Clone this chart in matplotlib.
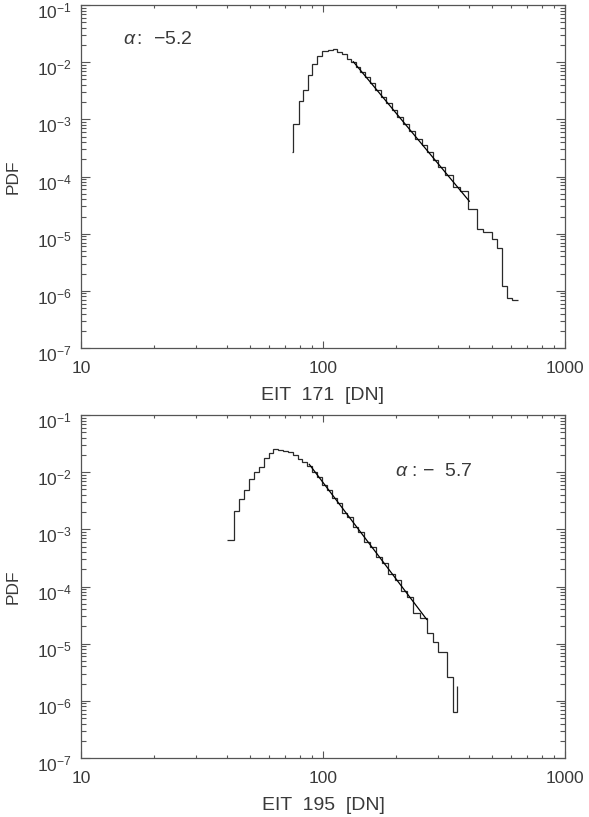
import numpy as np
import matplotlib
matplotlib.use("Agg")
import matplotlib.pyplot as plt
import matplotlib.transforms as mtransforms
from matplotlib.ticker import LogLocator, FixedLocator, FixedFormatter, NullFormatter

plt.rcParams['font.family'] = ['Liberation Sans', 'DejaVu Sans']
plt.rcParams['mathtext.fontset'] = 'custom'
plt.rcParams['mathtext.rm'] = 'Liberation Sans'
plt.rcParams['mathtext.it'] = 'Liberation Sans:italic'

# EIT 171 histogram (bin edges in DN, PDF per bin)
edges_171 = [74.2, 74.9, 79.9, 82.9, 86.4, 90.3, 94.8, 99.4, 104.5, 109.6, 114.6,
             119.8, 125.2, 130.5, 136.5, 142.7, 149.1, 156.4, 164.0, 173.1, 182.1,
             192.2, 202.9, 214.8, 227.4, 240.0, 255.7, 268.2, 284.0, 299.7, 319.3,
             343.4, 368.2, 398.7, 434.4, 459.9, 497.7, 521.9, 547.4, 574.1, 602.0,
             641.5]
pdf_171 = [2.70e-4, 8.47e-4, 2.08e-3, 3.25e-3, 6.02e-3, 9.14e-3, 1.28e-2, 1.585e-2,
           1.63e-2, 1.67e-2, 1.52e-2, 1.42e-2, 1.16e-2, 1.02e-2, 8.3e-3, 6.8e-3,
           5.41e-3, 4.25e-3, 3.33e-3, 2.48e-3, 1.95e-3, 1.45e-3, 1.11e-3, 8.24e-4,
           6.30e-4, 4.62e-4, 3.53e-4, 2.70e-4, 1.98e-4, 1.47e-4, 1.05e-4, 6.58e-5,
           5.60e-5, 2.68e-5, 1.21e-5, 1.07e-5, 8.2e-6, 5.7e-6, 1.2e-6, 7.5e-7,
           6.8e-7]
fit_x_171 = [133.5, 402.5]
fit_y_171 = [1.02e-2, 3.7e-5]
label_171 = r"$\alpha\,$:  " + "\u22125.2"

# EIT 195 histogram
edges_195 = [40.2, 43.0, 45.1, 47.3, 49.5, 51.9, 54.4, 56.9, 59.6, 62.3, 65.4,
             68.6, 71.7, 74.9, 78.6, 82.2, 86.1, 90.1, 94.1, 98.7, 103.6, 108.6,
             113.9, 119.8, 126.0, 132.6, 140.0, 147.7, 156.4, 165.6, 175.3, 186.2,
             197.8, 210.0, 223.2, 236.3, 251.6, 268.2, 284.0, 299.7, 324.4, 343.4,
             356.7, 359.0]
pdf_195 = [6.42e-4, 2.06e-3, 3.39e-3, 4.88e-3, 7.60e-3, 9.93e-3, 1.25e-2, 1.75e-2,
           2.14e-2, 2.54e-2, 2.44e-2, 2.35e-2, 2.28e-2, 2.0e-2, 1.68e-2, 1.51e-2,
           1.30e-2, 1.02e-2, 8.34e-3, 5.96e-3, 4.88e-3, 3.48e-3, 2.85e-3, 1.96e-3,
           1.62e-3, 1.11e-3, 9.1e-4, 6.09e-4, 4.84e-4, 3.24e-4, 2.54e-4, 1.65e-4,
           1.30e-4, 8.46e-5, 6.64e-5, 3.49e-5, 2.77e-5, 1.52e-5, 1.05e-5, 7.05e-6,
           2.65e-6, 6.29e-7, 1.82e-6]
fit_x_195 = [87.8, 268.2]
fit_y_195 = [1.37e-2, 2.66e-5]
label_195 = r"$\alpha$ : " + "\u2212  5.7"

xticks = [10, 100, 1000]
xticklabels = ["10", "100", "1000"]
yticks = [1e-7, 1e-6, 1e-5, 1e-4, 1e-3, 1e-2, 1e-1]

TXT = '#3a3a3a'

fig = plt.figure(figsize=(5.89, 8.17), dpi=100)
ax1 = fig.add_axes([0.1375, 0.574, 0.8217, 0.4198])
ax2 = fig.add_axes([0.1375, 0.0722, 0.8217, 0.4198])

panels = [
    (ax1, edges_171, pdf_171, fit_x_171, fit_y_171, "EIT  171  [DN]", label_171, (0.087, 0.90)),
    (ax2, edges_195, pdf_195, fit_x_195, fit_y_195, "EIT  195  [DN]", label_195, (0.649, 0.834)),
]

shift_down = mtransforms.ScaledTranslation(0, -5 / 100, fig.dpi_scale_trans)

for ax, edges, pdf, fx, fy, xlabel, alpha, pos in panels:
    ax.stairs(pdf, edges, baseline=None, color='#2a2a2a', lw=0.9)
    ax.plot(fx, fy, color='black', lw=0.9)
    ax.set_xscale('log')
    ax.set_yscale('log')
    ax.set_xlim(10, 1000)
    ax.set_ylim(1e-7, 1e-1)

    ax.xaxis.set_major_locator(FixedLocator(xticks))
    ax.xaxis.set_major_formatter(FixedFormatter(xticklabels))
    ax.xaxis.set_minor_locator(LogLocator(base=10, subs=np.arange(2, 10), numticks=20))
    ax.xaxis.set_minor_formatter(NullFormatter())
    ax.yaxis.set_major_locator(FixedLocator(yticks))
    ax.yaxis.set_minor_locator(LogLocator(base=10, subs=np.arange(2, 10), numticks=20))
    ax.yaxis.set_minor_formatter(NullFormatter())

    ax.tick_params(which='both', direction='in', top=True, right=True,
                   color='#555555', width=0.8, labelsize=12.5, labelcolor=TXT)
    ax.tick_params(axis='x', which='major', length=5, pad=9)
    ax.tick_params(axis='x', which='minor', length=2.5)
    ax.tick_params(axis='y', which='major', length=6.5, pad=6.5)
    ax.tick_params(axis='y', which='minor', length=3.5)
    for s in ax.spines.values():
        s.set_color('#555555')
        s.set_linewidth(0.9)

    fig.canvas.draw()
    for lab in ax.get_yticklabels():
        lab.set_transform(lab.get_transform() + shift_down)

    ax.set_xlabel(xlabel, fontsize=14, color=TXT, labelpad=8)
    ax.set_ylabel("PDF", fontsize=12.5, color=TXT)
    ax.yaxis.set_label_coords(-0.124, 0.5)
    ax.text(pos[0], pos[1], alpha, transform=ax.transAxes,
            fontsize=14, va='center', ha='left', color=TXT)

fig.savefig("out.png", dpi=100)
